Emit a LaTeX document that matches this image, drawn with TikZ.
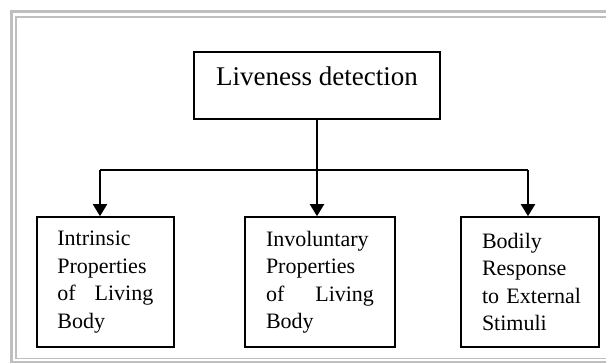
\documentclass[tikz,border=0pt]{standalone}
\usepackage{fontspec}
\setmainfont{Liberation Serif}
\usetikzlibrary{arrows.meta}
\begin{document}
\begin{tikzpicture}[x=1pt,y=-1pt,
  framebox/.style={draw=black, line width=1.6pt},
  topbox/.style={framebox, inner sep=0pt, font=\fontsize{27}{32}\selectfont, text height=9pt, text depth=9pt},
  leaf/.style={framebox, text width=#1, align=left, inner sep=0pt, font=\fontsize{22}{27.5}\selectfont},
  conn/.style={line width=2pt},
  arr/.style={conn, -{Triangle[width=14pt,length=12pt]}},
  pageframe/.style={draw=black!25},
]
\clip (0,0) rectangle (606,363);
\draw[pageframe, line width=2.5pt] (11.5,11.5) rectangle (640,362.5);
\draw[pageframe, line width=1.5pt] (16,17) rectangle (630,358.5);

\node[topbox, minimum width=246pt, minimum height=67pt] (top) at (317,85.5) {Liveness detection};

\node[leaf=96pt, minimum width=137.3pt, minimum height=130pt] (b1) at (105.35,282)
  {Intrinsic\\Properties\\\makebox[96pt][l]{of\hfill Living}\\Body};
\node[leaf=108pt, minimum width=150pt, minimum height=130pt] (b2) at (320,282)
  {Involuntary\\Properties\\\makebox[108pt][l]{of\hfill Living}\\Body};
\node[leaf=96pt, minimum width=138pt, minimum height=130pt] (b3) at (530,282)
  {Bodily\\Response\\\makebox[96pt][l]{to External}\\Stimuli};

\coordinate (j1) at (100,170);
\coordinate (j3) at (528,170);
\draw[conn] (j1) -- (j3);
\draw[arr] (top.south) -- (top.south |- b2.north);
\draw[arr] (j1) -- (j1 |- b1.north);
\draw[arr] (j3) -- (j3 |- b3.north);
\end{tikzpicture}
\end{document}
